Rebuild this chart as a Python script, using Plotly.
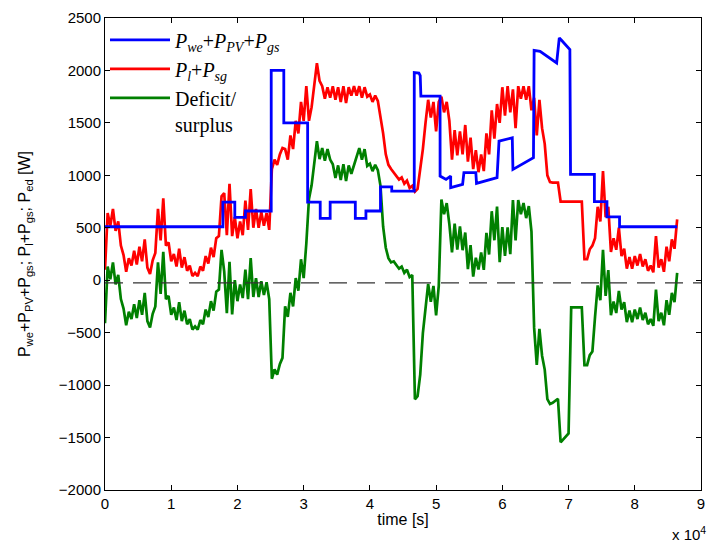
import numpy as np
import plotly.graph_objects as go

# ---- data ----
# common sampling grid for the load and deficit series, seconds
time_s = np.arange(0, 86401, 400)

# P_l + P_sg  [W]
load_w = [
    100, 640, 520, 680, 470, 560, 330, 240, 80, 210,
    140, 280, 150, 320, 180, 390, 120, 60, 190, 260,
    680, 380, 780, 330, 360, 180, 250, 130, 300, 120,
    220, 90, 140, 40, 70, 40, 130, 90, 230, 160,
    310, 220, 400, 420, 800, 830, 430, 920, 420, 600,
    400, 560, 430, 760, 480, 870, 500, 680, 500, 650,
    520, 640, 480, 1060, 1150, 1100, 1200, 1260, 1250, 1150,
    1380, 1250, 1520, 1400, 1700, 1520, 1850, 1520, 1650, 1880,
    2070, 1900, 1850, 1730, 1840, 1740, 1850, 1720, 1840, 1700,
    1850, 1690, 1840, 1760, 1850, 1760, 1850, 1740, 1840, 1750,
    1770, 1700, 1760, 1710, 1560, 1400, 1200, 1100, 1060, 1030,
    1000, 960, 980, 920, 950, 880, 900, 845, 870, 1050,
    1250, 1500, 1720, 1550, 1700, 1420, 1700, 1750, 1600, 1700,
    1520, 1150, 1430, 1190, 1420, 1200, 1480, 1130, 1360, 1060,
    1240, 1030, 1200, 1040, 1400, 1200, 1620, 1350, 1680, 1500,
    1840, 1570, 1850, 1600, 1820, 1450, 1850, 1730, 1850, 1720,
    1850, 1620, 1740, 1380, 1720, 1450, 1300, 1000, 935, 930,
    930, 930, 750, 750, 750, 750, 750, 750, 750, 750,
    750, 200, 200, 295, 330, 400, 700, 560, 1040, 600,
    700, 270, 400, 290, 500, 230, 300, 110, 220, 110,
    230, 140, 250, 130, 200, 90, 140, 75, 420, 120,
    200, 80, 320, 180, 390, 300, 580,
]

# Deficit / surplus  [W]
deficit_w = [
    -410, 130, 10, 170, -40, 50, -180, -270, -430, -300,
    -370, -230, -360, -190, -330, -120, -390, -450, -320, -250,
    170, -130, 270, -180, -150, -330, -260, -380, -210, -390,
    -290, -420, -370, -470, -440, -470, -380, -420, -280, -350,
    -200, -290, -110, -90, 290, 85, -315, 175, -325, 0,
    -200, -40, -170, 100, -180, 210, -160, 20, -160, -10,
    -140, -20, -180, -940, -850, -900, -800, -740, -250, -350,
    -120, -250, 20, -100, 200, 20, 350, 775, 905, 1135,
    1325, 1155, 1260, 1140, 1250, 1150, 1105, 975, 1095, 955,
    1105, 945, 1095, 1015, 1105, 1170, 1260, 1150, 1250, 1090,
    1110, 1040, 1100, 1050, 900, 510, 310, 210, 170, 180,
    150, 110, 130, 70, 100, 30, 50, -1135, -1105, -900,
    -505, -255, -35, -205, -55, -335, -55, 770, 630, 735,
    535, 265, 540, 292, 514, 286, 455, 105, 335, 35,
    215, 102, 265, 99, 452, 245, 658, 381, 702, 172,
    506, 231, 504, 248, 763, 379, 765, 630, 736, 592,
    707, 463, -452, -808, -464, -720, -852, -1134, -1181, -1169,
    -1151, -1130, -1545, -1520, -1490, -1460, -259, -259, -259, -259,
    -259, -809, -809, -714, -679, -350, -50, -190, 290, -150,
    97, -333, -203, -313, -103, -280, -210, -400, -290, -400,
    -280, -370, -260, -380, -310, -420, -370, -435, -90, -390,
    -310, -430, -190, -330, -120, -210, 70,
]

# P_we + P_PV + P_gs  [W] (piecewise, its own time stamps in seconds)
supply_t_s = [
    0, 17800, 17800, 19600, 19600, 21200, 21200, 25100, 25100, 27000,
    27000, 30600, 30600, 32500, 32500, 34000, 34000, 37800, 37800, 39400,
    39400, 41600, 41600, 43300, 43300, 46700, 46700, 47400, 47600, 47700,
    50600, 50600, 51500, 52200, 52200, 54000, 54200, 56000, 56100, 59200,
    59500, 61500, 61600, 64700, 64800, 65700, 68200, 68600, 68900, 70200,
    70300, 73900, 73900, 75800, 75800, 77700, 77700, 86400,
]
supply_w = [
    510, 510, 745, 745, 600, 600, 660, 660, 2000, 2000,
    1500, 1500, 745, 745, 590, 590, 745, 745, 590, 590,
    660, 660, 890, 890, 850, 850, 1980, 1975, 1950, 1755,
    1755, 993, 961, 993, 882, 914, 1025, 1025, 923, 978,
    1326, 1358, 1057, 1168, 2192, 2183, 2072, 2311, 2290, 2199,
    1009, 1009, 750, 750, 603, 603, 510, 510,
]

reference_level_w = -25

x_tick_vals = [0, 10000, 20000, 30000, 40000, 50000, 60000, 70000, 80000, 90000]
x_tick_text = ["0", "1", "2", "3", "4", "5", "6", "7", "8", "9"]
y_tick_vals = [-2000, -1500, -1000, -500, 0, 500, 1000, 1500, 2000, 2500]

name_supply = "<i>P</i><sub><i>we</i></sub>+<i>P</i><sub><i>PV</i></sub>+<i>P</i><sub><i>gs</i></sub>"
name_load = "<i>P</i><sub><i>l</i></sub>+<i>P</i><sub><i>sg</i></sub>"
name_deficit = "Deficit/<br>surplus"

# ---- figure ----
fig = go.Figure()
fig.add_trace(go.Scatter(x=time_s, y=load_w, mode="lines", name=name_load,
                         line=dict(color="#ff0000", width=2.7), legendrank=2))
fig.add_trace(go.Scatter(x=time_s, y=deficit_w, mode="lines", name=name_deficit,
                         line=dict(color="#008000", width=2.7), legendrank=3))
fig.add_trace(go.Scatter(x=supply_t_s, y=supply_w, mode="lines", name=name_supply,
                         line=dict(color="#0000ff", width=2.8), legendrank=1))

fig.add_shape(type="line", xref="paper", x0=0, x1=1, yref="y",
              y0=reference_level_w, y1=reference_level_w,
              line=dict(color="#333333", width=1.3, dash="18px,10px"))

axis_font = dict(family="Liberation Sans, Arial, sans-serif", size=15, color="black")
title_font = dict(family="Liberation Sans, Arial, sans-serif", size=16, color="black")

fig.update_xaxes(range=[0, 90000], tickvals=x_tick_vals, ticktext=x_tick_text,
                 ticks="inside", ticklen=5, tickcolor="black", mirror="allticks",
                 showline=True, linecolor="black", linewidth=1, showgrid=False,
                 zeroline=False, tickfont=axis_font,
                 title=dict(text="time [s]", font=title_font, standoff=2))
fig.update_yaxes(range=[-2000, 2500], tickvals=y_tick_vals,
                 ticks="inside", ticklen=5, tickcolor="black", mirror="allticks",
                 showline=True, linecolor="black", linewidth=1, showgrid=False,
                 zeroline=False, tickfont=axis_font,
                 title=dict(text="P<sub>we</sub>+P<sub>PV</sub>+P<sub>gs</sub>; P<sub>l</sub>+P<sub>gs</sub>; P<sub>ed</sub> [W]",
                            font=title_font, standoff=24))

fig.add_annotation(text="x 10<sup>4</sup>", xref="paper", yref="paper",
                   x=0.98, y=-0.092, xanchor="center", yanchor="middle",
                   showarrow=False, font=axis_font)

fig.update_layout(
    width=710, height=544,
    margin=dict(l=105, r=5, t=18, b=54),
    paper_bgcolor="white", plot_bgcolor="white",
    showlegend=True,
    legend=dict(x=0.0, y=0.995, xanchor="left", yanchor="top",
                bgcolor="rgba(0,0,0,0)", borderwidth=0,
                font=dict(family="Liberation Serif, Times New Roman, serif", size=20, color="black"),
                itemwidth=60, tracegroupgap=0, valign="top"),
)

fig.write_html("out.html")
